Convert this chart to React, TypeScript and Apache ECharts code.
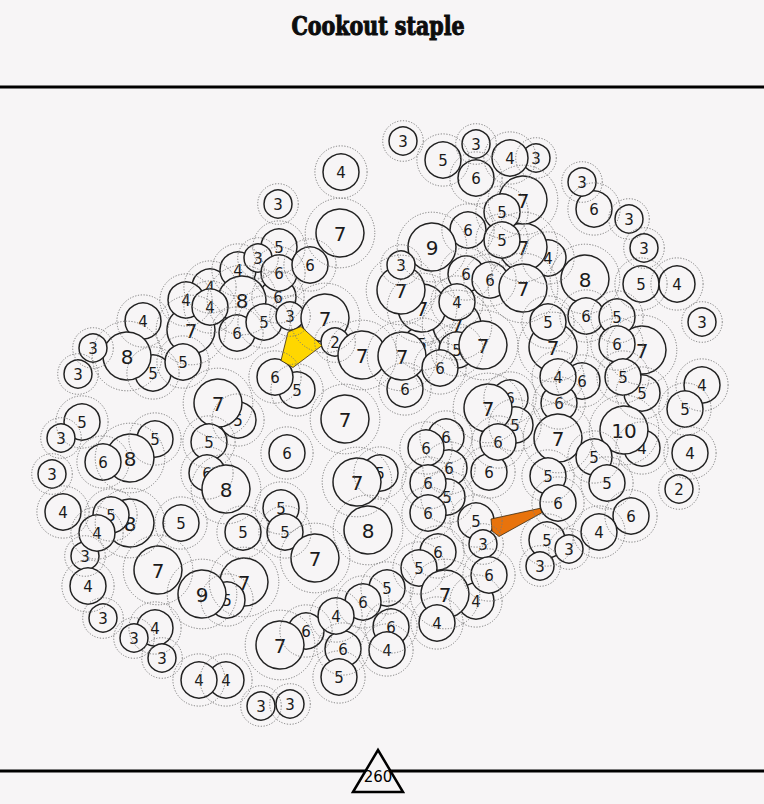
import React, { useEffect, useRef } from "react";
import * as echarts from "echarts";

const BG = "#f7f5f6";
const titleText = "Cookout staple";
const totalLabel = "260";

// [x, y, value] — circles drawn first (partly covered by later ones)
const lowerCircles: number[][] = [
  [278, 297, 6], [422, 344, 5], [457, 325, 7], [422, 308, 7], [380, 473, 5],
  [238, 420, 5], [510, 398, 6], [515, 425, 5], [297, 390, 5], [548, 258, 4],
  [523, 247, 7], [523, 200, 7], [244, 582, 7], [227, 600, 5], [642, 448, 4],
  [642, 393, 5], [642, 350, 7], [553, 347, 7], [582, 381, 6], [559, 403, 6],
  [446, 437, 6], [449, 468, 6], [447, 497, 5], [155, 439, 5], [130, 523, 8],
  [111, 515, 5], [85, 556, 3], [476, 601, 4], [306, 631, 6], [343, 649, 6],
  [391, 627, 6], [226, 680, 4], [155, 628, 4], [191, 330, 7], [210, 287, 4],
  [153, 373, 5], [594, 209, 6], [536, 158, 3], [405, 389, 6], [466, 274, 6],
  [585, 279, 8],
];

// [x, y, value] — circles drawn on top
const upperCircles: number[][] = [
  [403, 141, 3], [443, 160, 5], [476, 144, 3], [510, 158, 4], [476, 178, 6],
  [341, 172, 4], [582, 182, 3], [502, 212, 5], [629, 219, 3], [278, 204, 3],
  [340, 233, 7], [279, 247, 5], [238, 270, 4], [258, 258, 3], [279, 273, 6],
  [310, 265, 6], [186, 300, 4], [242, 300, 8], [210, 307, 4],
  [468, 230, 6], [432, 247, 9], [502, 240, 5], [644, 248, 3], [641, 284, 5],
  [677, 284, 4], [401, 290, 7], [401, 265, 3], [490, 280, 6], [523, 288, 7],
  [457, 302, 4],
  [143, 321, 4], [127, 356, 8], [183, 362, 5], [93, 348, 3], [78, 374, 3],
  [237, 333, 6], [264, 322, 5], [290, 316, 3], [325, 318, 7], [335, 342, 2],
  [362, 355, 7], [402, 356, 7], [457, 350, 5], [483, 345, 7], [440, 368, 6],
  [275, 377, 6],
  [548, 322, 5], [586, 316, 6], [617, 317, 5], [702, 322, 3], [617, 344, 6],
  [558, 377, 4], [623, 377, 5], [702, 385, 4], [488, 408, 7],
  [218, 403, 7], [82, 422, 5], [61, 438, 3], [130, 458, 8], [103, 462, 6],
  [52, 474, 3], [209, 442, 5], [207, 473, 6], [226, 489, 8], [287, 453, 6],
  [345, 419, 7], [357, 482, 7], [426, 448, 6], [428, 483, 6], [489, 472, 6],
  [498, 442, 6], [558, 438, 7], [685, 409, 5], [624, 430, 10], [690, 453, 4],
  [594, 457, 5], [548, 476, 5], [607, 483, 5], [679, 489, 2], [558, 503, 6],
  [63, 512, 4], [97, 533, 4], [181, 523, 5], [243, 532, 5], [281, 508, 5],
  [285, 532, 5], [368, 530, 8], [428, 513, 6], [476, 521, 5], [483, 544, 3],
  [631, 516, 6], [599, 532, 4], [547, 540, 5], [569, 549, 3], [540, 566, 3],
  [158, 570, 7], [88, 586, 4], [202, 594, 9], [315, 558, 7], [438, 552, 6],
  [419, 568, 5], [489, 575, 6], [445, 594, 7], [387, 588, 5], [363, 602, 6],
  [103, 618, 3], [134, 638, 3], [162, 658, 3], [336, 616, 4], [437, 623, 4],
  [280, 645, 7], [387, 650, 4], [339, 677, 5], [199, 680, 4], [261, 706, 3],
  [290, 704, 3],
];

const circles = [...lowerCircles, ...upperCircles];

// highlighted patches (vertex lists in data coordinates)
const yellowPatch: number[][] = [[288, 332], [301, 326.5], [322, 345.5], [293, 367.5], [281, 360.5]];
const orangePatch: number[][] = [[491, 519], [540, 508.3], [542, 512.7], [499, 536.5], [492, 531]];
const patches = [yellowPatch, orangePatch];
const patchColors = ["#ffd700", "#e8730c"];

function radiusOf(v: number) {
  return v <= 3 ? 14 : v <= 6 ? 18 : 24;
}
function fontOf(v: number) {
  return v <= 6 ? 15 : 20;
}

export default function App() {
  const ref = useRef<HTMLDivElement>(null);
  useEffect(() => {
    if (!ref.current) return;
    const chart = echarts.init(ref.current, undefined, { renderer: "svg" });
    const bubble = (params: any, api: any) => {
      const v = api.value(2);
      const [cx, cy] = api.coord([api.value(0), api.value(1)]);
      const r = radiusOf(v);
      return {
        type: "group",
        children: [
          {
            type: "circle",
            shape: { cx, cy, r },
            style: { fill: BG, stroke: "#222", lineWidth: 1.5 },
          },
          {
            type: "text",
            style: {
              x: cx,
              y: cy + 0.5,
              text: String(v),
              fill: "#1a1a1a",
              font: `${fontOf(v)}px "DejaVu Sans", sans-serif`,
              align: "center",
              verticalAlign: "middle",
              textAlign: "center",
              textVerticalAlign: "middle",
            },
          },
        ],
      };
    };
    const ring = (params: any, api: any) => {
      const v = api.value(2);
      const [cx, cy] = api.coord([api.value(0), api.value(1)]);
      return {
        type: "circle",
        shape: { cx, cy, r: radiusOf(v) * 1.45 },
        style: { fill: "none", stroke: "#7a7a7a", lineWidth: 1, lineDash: [1.2, 1.6] },
      };
    };
    const patch = (params: any, api: any) => {
      const i = params.dataIndex;
      const pts = patches[i].map((p) => api.coord(p));
      return {
        type: "polygon",
        shape: { points: pts },
        style: { fill: patchColors[i], stroke: "#3a2a10", lineWidth: 0.8 },
      };
    };
    chart.setOption({
      animation: false,
      backgroundColor: BG,
      grid: { left: 0, right: 0, top: 0, bottom: 0 },
      xAxis: { type: "value", min: 0, max: 764, show: false },
      yAxis: { type: "value", min: 0, max: 804, inverse: true, show: false },
      series: [
        { type: "custom", coordinateSystem: "cartesian2d", data: circles, renderItem: bubble, z: 2, silent: true },
        { type: "custom", coordinateSystem: "cartesian2d", data: [[0, 0], [1, 0]], renderItem: patch, z: 3, silent: true },
        { type: "custom", coordinateSystem: "cartesian2d", data: circles, renderItem: ring, z: 4, silent: true },
      ],
      graphic: [
        {
          type: "text",
          x: 378,
          y: 26,
          scaleX: 0.88,
          style: {
            x: 0,
            y: 0,
            text: titleText,
            fill: "#0d0d0d",
            stroke: "#0d0d0d",
            lineWidth: 1,
            font: 'bold 26px "DejaVu Serif Condensed", "DejaVu Serif", serif',
            align: "center",
            verticalAlign: "middle",
            textAlign: "center",
            textVerticalAlign: "middle",
          },
        },
        { type: "line", shape: { x1: 0, y1: 87, x2: 764, y2: 87 }, style: { stroke: "#000", lineWidth: 3 } },
        { type: "line", shape: { x1: 0, y1: 771, x2: 764, y2: 771 }, style: { stroke: "#000", lineWidth: 3 } },
        {
          type: "polygon",
          shape: { points: [[353, 792], [378, 750], [403, 792]] },
          style: { fill: BG, stroke: "#000", lineWidth: 2.5 },
        },
        {
          type: "text",
          x: 378,
          y: 777,
          style: {
            x: 0,
            y: 0,
            text: totalLabel,
            fill: "#000",
            font: '15px "DejaVu Sans", sans-serif',
            align: "center",
            verticalAlign: "middle",
            textAlign: "center",
            textVerticalAlign: "middle",
          },
        },
      ],
    });
    return () => chart.dispose();
  }, []);
  return (
    <div
      ref={ref}
      style={{ position: "fixed", left: 0, top: 0, width: 764, height: 804, background: BG }}
    />
  );
}
